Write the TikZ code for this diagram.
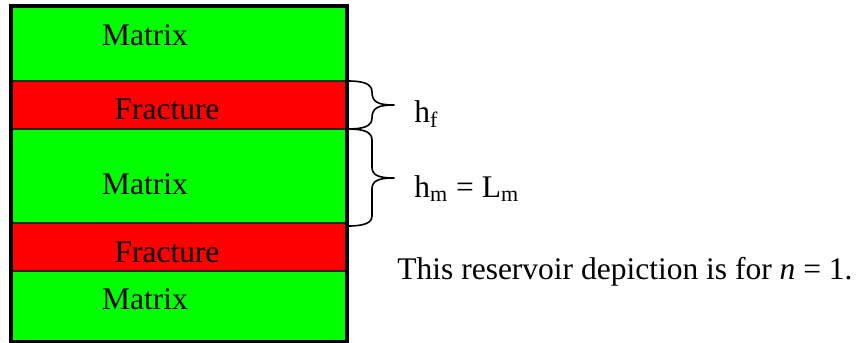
\documentclass[tikz,border=0pt]{standalone}
\usepackage{fontspec}
\setmainfont{Liberation Serif}
\begin{document}
\begin{tikzpicture}[x=0.5pt,y=-0.5pt,
  lbl/.style={font=\fontsize{15.75}{19}\selectfont, inner sep=0pt, anchor=base},
  lbll/.style={lbl, anchor=base west},
  matrixlayer/.style={fill=green!100, draw=black!85, line width=1pt},
  fraclayer/.style={fill=red, draw=black!85, line width=1pt},
  bracepath/.style={draw=black, line width=0.8pt, line join=round}]
\useasboundingbox (0,0) rectangle (859,343);
\definecolor{green}{RGB}{0,255,0}
% layers
\path[matrixlayer] (11,6) rectangle (347,81);
\path[fraclayer] (11,81) rectangle (347,129);
\path[matrixlayer] (11,129) rectangle (347,223);
\path[fraclayer] (11,223) rectangle (347,271);
\path[matrixlayer] (11,271) rectangle (347,341.5);
\draw[line width=1.7pt] (11,6) rectangle (347,341.5);
% layer labels
\node[lbl] (m1) at (145,45) {Matrix};
\node[lbl] (f1) at (167,119) {Fracture};
\node[lbl] (m2) at (145,194) {Matrix};
\node[lbl] (f2) at (167,262) {Fracture};
\node[lbl] (m3) at (145,309) {Matrix};
% braces
\draw[bracepath] (348,81) .. controls (364,81) and (372,84) .. (372,92)
  .. controls (372,102) and (378,105) .. (394,105)
  .. controls (378,105) and (372,108) .. (372,118)
  .. controls (372,126) and (364,129) .. (348,129);
\draw[bracepath] (348,129) .. controls (364,129) and (372,132) .. (372,140)
  -- (372,167) .. controls (372,175) and (378,178) .. (394,178)
  .. controls (378,178) and (372,181) .. (372,189)
  -- (372,216) .. controls (372,223) and (364,226) .. (348,226);
% brace labels
\node[lbll] (hf) at (414,122) {h\textsubscript{f}};
\node[lbll] (hm) at (414,197) {h\textsubscript{m} = L\textsubscript{m}};
\node[lbll] (note) at (397,279) {This reservoir depiction is for \textit{n} = 1.};
\end{tikzpicture}
\end{document}
